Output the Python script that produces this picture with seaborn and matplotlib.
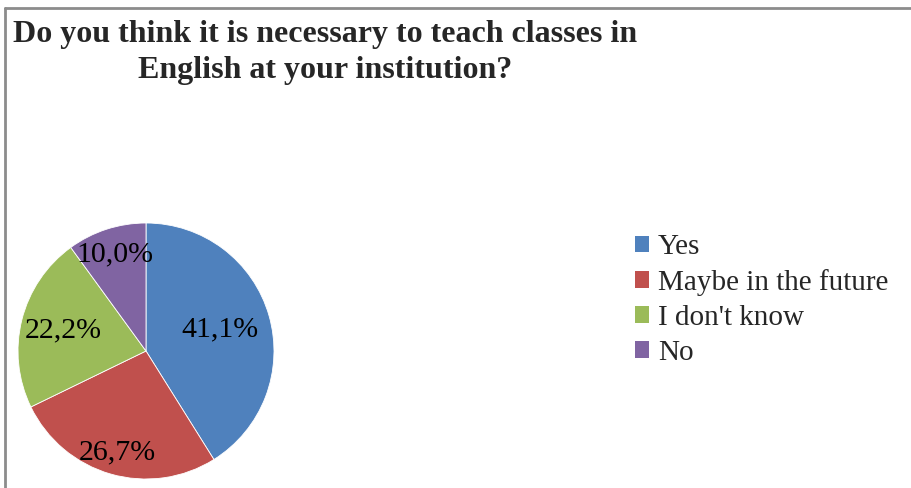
import numpy as np
import matplotlib.pyplot as plt
import seaborn as sns
from matplotlib.lines import Line2D
from matplotlib.patches import Patch

# survey answers
answers = ["Yes", "Maybe in the future", "I don't know", "No"]
shares = [41.1, 26.7, 22.2, 10.0]
pct_labels = ["41,1%", "26,7%", "22,2%", "10,0%"]
label_radius = [0.6, 0.82, 0.67, 0.79]
colors = ["#4F81BD", "#C0504D", "#9BBB59", "#8064A2"]

sns.set_style("white")
plt.rcParams['font.family'] = ['Liberation Serif', 'DejaVu Serif']

fig = plt.figure(figsize=(9.12, 4.88), dpi=100)
ax = fig.add_axes([18 / 912, 9 / 488, 256 / 912, 256 / 488])

wedges, texts = ax.pie(shares, colors=colors, startangle=90, counterclock=False,
                       wedgeprops=dict(edgecolor="white", linewidth=0.6))
ax.set_xlim(-1, 1)
ax.set_ylim(-1, 1)
ax.set_aspect("equal")

for w, lab, r in zip(wedges, pct_labels, label_radius):
    ang = np.deg2rad((w.theta1 + w.theta2) / 2)
    ax.text(r * np.cos(ang), r * np.sin(ang), lab, ha="center", va="center",
            fontsize=21.5, color="black")

handles = [Patch(facecolor=c, edgecolor="none") for c in colors]
fig.legend(handles, answers, loc="center left", bbox_to_anchor=(620 / 912, 1 - 300 / 488),
           frameon=False, fontsize=21, handlelength=0.5, handleheight=0.5,
           handletextpad=0.3, labelspacing=0.3, borderpad=0)

fig.text(325 / 912, 1 - 20 / 488,
         "Do you think it is necessary to teach classes in\nEnglish at your institution?",
         ha="center", va="top", fontsize=23, fontweight="bold", linespacing=1.3)

# chart frame (left and top edges visible)
fig.add_artist(Line2D([5 / 912, 5 / 912], [0, 1 - 8 / 488], transform=fig.transFigure,
                      color="#8c8c8c", linewidth=2))
fig.add_artist(Line2D([5 / 912, 1], [1 - 8 / 488, 1 - 8 / 488], transform=fig.transFigure,
                      color="#8c8c8c", linewidth=2))

fig.savefig("out.png", dpi=100)
